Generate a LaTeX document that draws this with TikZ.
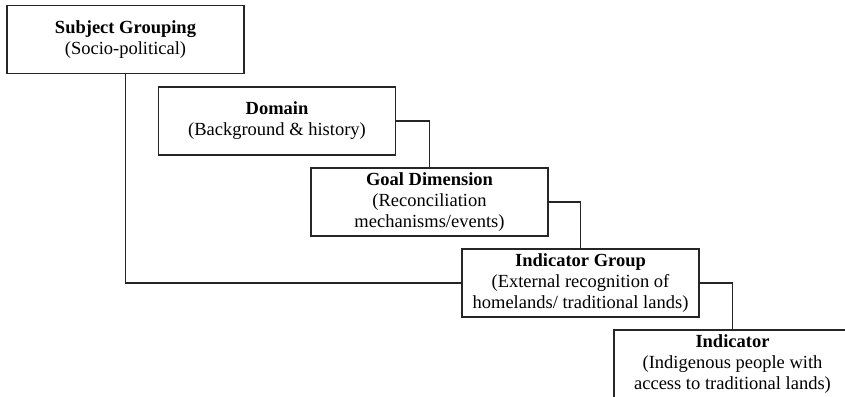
\documentclass[tikz,border=0pt]{standalone}
\usepackage{fontspec}
\setmainfont{Liberation Serif}
\begin{document}
\begin{tikzpicture}[x=1pt,y=-1pt,
  box/.style={draw=black!85,line width=1.1pt,fill=white,minimum width=237pt,minimum height=68pt,
    inner sep=0pt,align=center,font=\fontsize{18.5}{21}\selectfont},
  conn/.style={draw=black!85,line width=1.1pt}]
\useasboundingbox (0,0) rectangle (845,396);
\clip (0,0) rectangle (845,396);
\node[box] (sg) at (125.5,39.5) {\textbf{Subject Grouping}\\(Socio-political)};
\node[box] (dom) at (277,121) {\textbf{Domain}\\(Background \& history)};
\node[box] (gd) at (429.5,202) {\textbf{Goal Dimension}\\(Reconciliation\\mechanisms/events)};
\node[box] (ig) at (580.5,283) {\textbf{Indicator Group}\\(External recognition of\\homelands/ traditional lands)};
\node[box] (ind) at (732.5,364) {\textbf{Indicator}\\(Indigenous people with\\access to traditional lands)};
\draw[conn] (sg.south) |- (ig.west);
\draw[conn] (dom.east) -| (gd.north);
\draw[conn] (gd.east) -| (ig.north);
\draw[conn] (ig.east) -| (ind.north);
\end{tikzpicture}
\end{document}
